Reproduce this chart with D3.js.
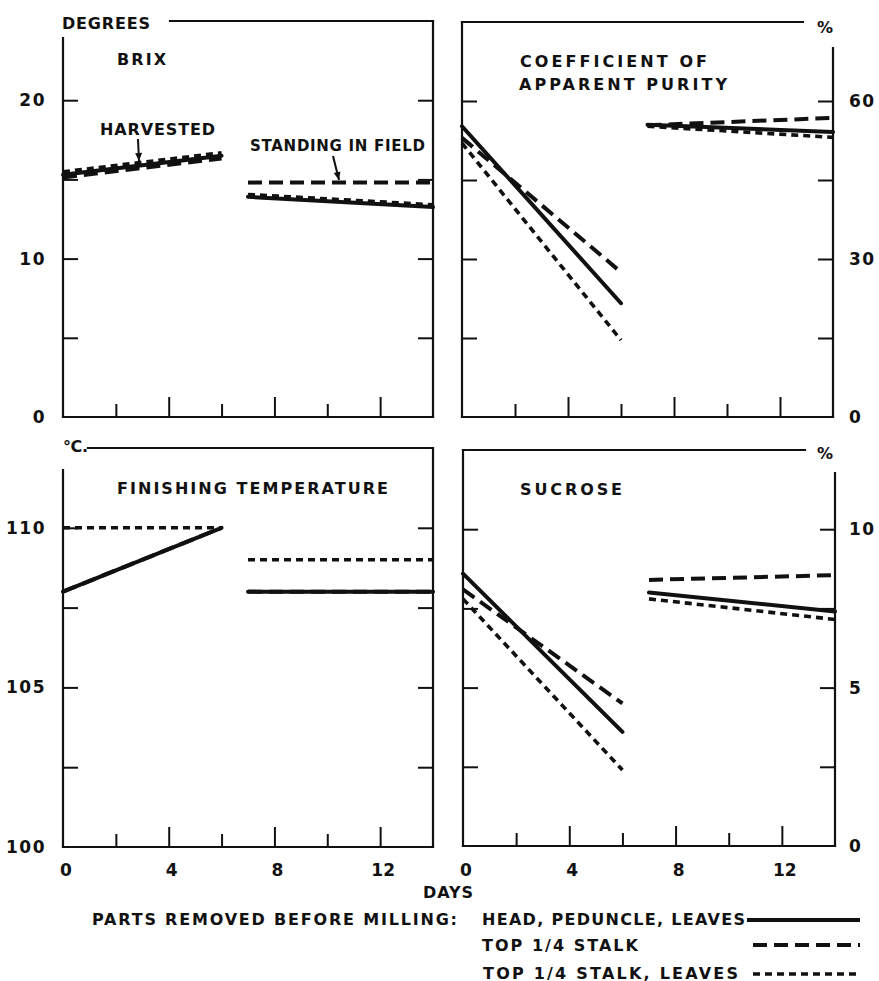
<!DOCTYPE html>
<html><head><meta charset="utf-8">
<script src="https://cdn.jsdelivr.net/npm/d3@7"></script>
<style>
body{margin:0;background:#fff}
text{font-family:"DejaVu Sans",sans-serif;font-weight:bold;fill:#111}
</style>
</head><body>
<svg id="c" width="879" height="981"></svg>
<script>
// ---------------- DATA ----------------
const seriesNames = ["HEAD, PEDUNCLE, LEAVES", "TOP 1/4 STALK", "TOP 1/4 STALK, LEAVES"];
const harvestDays = [0, 6];
const standingDays = [7, 14];
const dayLabelTicks = [0, 4, 8, 12];
const majorDayTicks = [4, 8, 12];
const minorDayTicks = [2, 6, 10];

// Brix (degrees)
const brixTicks = [5, 10, 15, 20];
const brixLabels = [0, 10, 20];
const brixHarvSolid = [15.3, 16.5];
const brixHarvLong = [15.12, 16.32];
const brixHarvShort = [15.48, 16.68];
const brixStandSolid = [13.9, 13.25];
const brixStandLong = [14.8, 14.8];
const brixStandShort = [14.05, 13.4];

// Coefficient of apparent purity (%)
const purityTicks = [15, 30, 45, 60];
const purityLabels = [0, 30, 60];
const purityHarvSolid = [55.2, 21.6];
const purityHarvLong = [53.0, 27.5];
const purityHarvShort = [52.0, 14.6];
const purityStandSolid = [55.5, 54.1];
const purityStandLong = [55.4, 56.8];
const purityStandShort = [55.2, 53.1];

// Finishing temperature (deg C)
const tempTicks = [102.5, 105, 107.5, 110];
const tempLabels = [100, 105, 110];
const tempHarvSolid = [108, 110];
const tempHarvLong = [108, 110];
const tempHarvShort = [110, 110];
const tempStandSolid = [108, 108];
const tempStandLong = [108, 108];
const tempStandShort = [109, 109];

// Sucrose (%)
const sucroseTicks = [2.5, 5, 7.5, 10];
const sucroseLabels = [0, 5, 10];
const sucHarvSolid = [8.6, 3.6];
const sucHarvLong = [8.1, 4.5];
const sucHarvShort = [7.8, 2.4];
const sucStandSolid = [8.0, 7.4];
const sucStandLong = [8.4, 8.55];
const sucStandShort = [7.8, 7.15];

// ---------------- LAYOUT ----------------
const styles = [
  {dash: null, w: 4},
  {dash: "14,7", w: 4},
  {dash: "7,5", w: 3.6}
];

const panels = [
  {x0:63, x1:433, yTop:21, yBot:417, dom:[0,25], ticks:brixTicks, labels:brixLabels, labelSide:"left",
   topFrom:170, topTo:433, leftFrom:38, rightFrom:21, xLabels:false,
   harv:[brixHarvSolid, brixHarvLong, brixHarvShort], stand:[brixStandSolid, brixStandLong, brixStandShort]},
  {x0:462, x1:833, yTop:22, yBot:417, dom:[0,75], ticks:purityTicks, labels:purityLabels, labelSide:"right",
   topFrom:462, topTo:803, leftFrom:22, rightFrom:48, xLabels:false,
   harv:[purityHarvSolid, purityHarvLong, purityHarvShort], stand:[purityStandSolid, purityStandLong, purityStandShort]},
  {x0:63, x1:433, yTop:448, yBot:847, dom:[100,112.5], ticks:tempTicks, labels:tempLabels, labelSide:"left",
   topFrom:88, topTo:433, leftFrom:470, rightFrom:448, xLabels:true,
   harv:[tempHarvSolid, tempHarvLong, tempHarvShort], stand:[tempStandSolid, tempStandLong, tempStandShort]},
  {x0:463, x1:835, yTop:450, yBot:846, dom:[0,12.5], ticks:sucroseTicks, labels:sucroseLabels, labelSide:"right",
   topFrom:463, topTo:805, leftFrom:450, rightFrom:473, xLabels:true,
   harv:[sucHarvSolid, sucHarvLong, sucHarvShort], stand:[sucStandSolid, sucStandLong, sucStandShort]}
];

const svg = d3.select("#c");
svg.append("rect").attr("width",879).attr("height",981).attr("fill","#fff");

function label(x, y, str, len, anchor, size) {
  const t = svg.append("text").attr("x", x).attr("y", y).text(str)
    .attr("font-size", size || 16)
    .attr("text-anchor", anchor || "start");
  if (len) t.attr("textLength", len).attr("lengthAdjust", "spacing");
  return t;
}

panels.forEach(p => {
  const x = d3.scaleLinear().domain([0,14]).range([p.x0, p.x1]);
  const y = d3.scaleLinear().domain(p.dom).range([p.yBot, p.yTop]);
  const g = svg.append("g");

  // frame lines
  const frame = [
    [p.topFrom, p.yTop, p.topTo, p.yTop],
    [p.x0, p.leftFrom, p.x0, p.yBot],
    [p.x1, p.rightFrom, p.x1, p.yBot],
    [p.x0, p.yBot, p.x1, p.yBot]
  ];
  g.selectAll("line.frame").data(frame).join("line").attr("class","frame")
    .attr("x1",d=>d[0]).attr("y1",d=>d[1]).attr("x2",d=>d[2]).attr("y2",d=>d[3])
    .attr("stroke","#111").attr("stroke-width",2.2).attr("stroke-linecap","square");

  // vertical axes ticks (inward)
  const la = g.append("g").attr("transform",`translate(${p.x0},0)`)
    .call(d3.axisLeft(y).tickValues(p.ticks).tickSize(-15).tickFormat(""));
  const ra = g.append("g").attr("transform",`translate(${p.x1},0)`)
    .call(d3.axisRight(y).tickValues(p.ticks).tickSize(-15).tickFormat(""));
  // bottom axis ticks (upward)
  const ba1 = g.append("g").attr("transform",`translate(0,${p.yBot})`)
    .call(d3.axisBottom(x).tickValues(majorDayTicks).tickSize(-20).tickFormat(""));
  const ba2 = g.append("g").attr("transform",`translate(0,${p.yBot})`)
    .call(d3.axisBottom(x).tickValues(minorDayTicks).tickSize(-13).tickFormat(""));
  [la, ra, ba1, ba2].forEach(a => {
    a.select(".domain").remove();
    a.selectAll(".tick line").attr("stroke","#111").attr("stroke-width",2);
  });

  // y labels
  p.labels.forEach(v => {
    if (p.labelSide === "left") {
      label(46, y(v) + 6, String(v), null, "end", 17).attr("letter-spacing", 1.5);
    } else {
      label(849, y(v) + 6, String(v), null, "start", 17).attr("letter-spacing", 1.5);
    }
  });
  // x labels
  if (p.xLabels) {
    dayLabelTicks.forEach(d => {
      label(x(d) + 3, 876, String(d), null, "middle", 17);
    });
  }

  // data lines
  const line = d3.line().x(d => x(d[0])).y(d => y(d[1]));
  const order = [1, 2, 0]; // draw solid last
  order.forEach(i => {
    [[harvestDays, p.harv[i]], [standingDays, p.stand[i]]].forEach(([days, vals]) => {
      const pts = days.map((d, k) => [d, vals[k]]);
      g.append("path").attr("d", line(pts)).attr("fill","none")
        .attr("stroke","#111").attr("stroke-width", styles[i].w)
        .attr("stroke-dasharray", styles[i].dash)
        .attr("stroke-linecap", i === 0 ? "round" : "butt");
    });
  });
});

// ---------------- TEXT ----------------
label(62, 29, "DEGREES", 88);
label(117, 65, "BRIX", 49);
label(100, 134.5, "HARVESTED", 115);
label(250, 150.5, "STANDING IN FIELD", 175, "start", 15);
label(520, 67, "COEFFICIENT OF", 187);
label(519, 89.5, "APPARENT PURITY", 208);
label(817, 33, "%", 17);
label(63, 452, "°C.", 25);
label(117, 493.5, "FINISHING TEMPERATURE", 271);
label(520, 494.5, "SUCROSE", 102);
label(817, 458.5, "%", 17);
label(423, 898, "DAYS", 50);
label(92, 925, "PARTS REMOVED BEFORE MILLING:", 365);
label(482, 925, seriesNames[0], 263);
label(482, 951, seriesNames[1], 156);
label(483, 978.5, seriesNames[2], 255);

// arrows
function arrow(x1, y1, x2, y2) {
  svg.append("line").attr("x1",x1).attr("y1",y1).attr("x2",x2).attr("y2",y2)
    .attr("stroke","#111").attr("stroke-width",2);
  const ang = Math.atan2(y2-y1, x2-x1);
  const L = 8, W = 3.5;
  const bx = x2 - L*Math.cos(ang), by = y2 - L*Math.sin(ang);
  const px = -Math.sin(ang)*W, py = Math.cos(ang)*W;
  svg.append("path").attr("d",`M${x2},${y2}L${bx+px},${by+py}L${bx-px},${by-py}Z`).attr("fill","#111");
}
arrow(138, 139, 139, 161);
arrow(333, 156, 339, 180);

// legend lines
const legendY = [920, 945, 974];
const legendX = [[747, 860], [753, 860], [753, 858]];
styles.forEach((s, i) => {
  svg.append("line").attr("x1", legendX[i][0]).attr("x2", legendX[i][1])
    .attr("y1", legendY[i]).attr("y2", legendY[i])
    .attr("stroke","#111").attr("stroke-width", s.w)
    .attr("stroke-dasharray", s.dash);
});
</script>
</body></html>
